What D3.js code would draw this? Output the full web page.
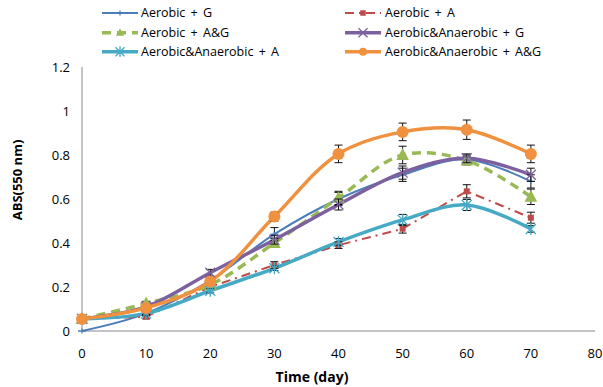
<!DOCTYPE html>
<html><head><meta charset="utf-8">
<script src="https://cdn.jsdelivr.net/npm/d3@7"></script>
<style>body{margin:0;background:#fff}svg{display:block}text{font-family:"Open Sans","Noto Sans",sans-serif;fill:#000}</style>
</head><body><div id="c"></div>
<script>
const days = [0,10,20,30,40,50,60,70];
const xTicks = [0,10,20,30,40,50,60,70,80];
const yTicks = [0,0.2,0.4,0.6,0.8,1,1.2];
const seriesNames = ["Aerobic + G","Aerobic + A","Aerobic + A&G","Aerobic&Anaerobic + G","Aerobic&Anaerobic + A","Aerobic&Anaerobic + A&G"];
const aerobicG   = [0.0,0.08,0.23,0.44,0.60,0.71,0.78,0.68];
const aerobicA   = [0.055,0.065,0.20,0.30,0.39,0.465,0.635,0.515];
const aerobicAG  = [0.055,0.125,0.21,0.40,0.605,0.80,0.775,0.61];
const bothG      = [0.055,0.11,0.265,0.415,0.575,0.72,0.785,0.71];
const bothA      = [0.055,0.08,0.183,0.285,0.405,0.505,0.573,0.464];
const bothAG     = [0.055,0.105,0.225,0.52,0.805,0.905,0.915,0.805];
const errG   = [0,0.01,0.015,0.03,0.03,0.03,0.02,0.03];
const errA   = [0.005,0.01,0.01,0.015,0.015,0.02,0.03,0.025];
const errAG  = [0.01,0.01,0.01,0.02,0.03,0.04,0.02,0.035];
const errBG  = [0.005,0.01,0.015,0.02,0.025,0.03,0.02,0.03];
const errBA  = [0.005,0.01,0.01,0.01,0.015,0.025,0.025,0.015];
const errBAG = [0.01,0.01,0.01,0.02,0.04,0.04,0.044,0.04];

const W=603,H=387;
const svg=d3.select("#c").append("svg").attr("width",W).attr("height",H);
const x=d3.scaleLinear().domain([0,80]).range([82,595]);
const y=d3.scaleLinear().domain([0,1.2]).range([331,67]);

const S=[
 {name:seriesNames[0],v:aerobicG,e:errG,color:"#4A7EBB",w:2,dash:null,smooth:true,marker:"plus",ms:4},
 {name:seriesNames[1],v:aerobicA,e:errA,color:"#BE4B48",w:2,dash:"9,5,2,5",smooth:false,marker:"square",ms:5},
 {name:seriesNames[2],v:aerobicAG,e:errAG,color:"#98B954",w:3.5,dash:"9,6",smooth:true,marker:"triangle",ms:7},
 {name:seriesNames[3],v:bothG,e:errBG,color:"#7D60A0",w:3.5,dash:null,smooth:true,marker:"x",ms:5},
 {name:seriesNames[4],v:bothA,e:errBA,color:"#46AAC5",w:3.5,dash:null,smooth:true,marker:"star",ms:5},
 {name:seriesNames[5],v:bothAG,e:errBAG,color:"#F0913F",w:3.5,dash:null,smooth:true,marker:"circle",ms:6}
];

// axes
const ax=svg.append("g");
ax.append("line").attr("x1",x(0)).attr("x2",x(0)).attr("y1",y(1.2)).attr("y2",y(0)).attr("stroke","#888").attr("stroke-width",1);
ax.append("line").attr("x1",x(0)).attr("x2",x(80)).attr("y1",y(0)).attr("y2",y(0)).attr("stroke","#888").attr("stroke-width",1);
ax.selectAll(".yt").data(yTicks).join("text").attr("x",70).attr("y",d=>y(d)).attr("dy","0.35em")
  .attr("text-anchor","end").attr("font-size",13).text(d=>d3.format("")(d));
ax.selectAll(".xt").data(xTicks).join("text").attr("x",d=>x(d)).attr("y",353).attr("dy","0.35em")
  .attr("text-anchor","middle").attr("font-size",13).text(d=>d);
svg.append("text").attr("x",312).attr("y",377).attr("dy","0.35em").attr("text-anchor","middle")
  .attr("font-size",14).attr("font-weight","bold").text("Time (day)");
svg.append("text").attr("transform","translate(17,180) rotate(-90)").attr("dy","0.35em").attr("text-anchor","middle")
  .attr("font-size",13).attr("font-weight","bold").text("ABS(550 nm)");

function drawMarker(g,type,cx,cy,s,color){
  if(type==="circle") g.append("circle").attr("cx",cx).attr("cy",cy).attr("r",s).attr("fill",color);
  else if(type==="square") g.append("rect").attr("x",cx-s/2-0.5).attr("y",cy-s/2-0.5).attr("width",s+1).attr("height",s+1).attr("fill",color);
  else if(type==="triangle") g.append("path").attr("d",`M${cx},${cy-s}L${cx+s*0.9},${cy+s*0.7}L${cx-s*0.9},${cy+s*0.7}Z`).attr("fill",color);
  else if(type==="x") g.append("path").attr("d",`M${cx-s},${cy-s}L${cx+s},${cy+s}M${cx-s},${cy+s}L${cx+s},${cy-s}`).attr("stroke",color).attr("stroke-width",1.3);
  else if(type==="star") g.append("path").attr("d",`M${cx-s},${cy-s}L${cx+s},${cy+s}M${cx-s},${cy+s}L${cx+s},${cy-s}M${cx},${cy-s*1.2}L${cx},${cy+s*1.2}`).attr("stroke",color).attr("stroke-width",1.3);
  else if(type==="plus") g.append("path").attr("d",`M${cx-s},${cy}L${cx+s},${cy}M${cx},${cy-s*0.6}L${cx},${cy+s*0.6}`).attr("stroke",color).attr("stroke-width",1.3);
}

const plot=svg.append("g");
S.forEach(s=>{
  const pts=days.map((d,i)=>[d,s.v[i],s.e[i]]);
  const line=d3.line().x(d=>x(d[0])).y(d=>y(d[1])).curve(s.smooth?d3.curveCatmullRom.alpha(0.5):d3.curveLinear);
  plot.append("path").attr("d",line(pts)).attr("fill","none").attr("stroke",s.color).attr("stroke-width",s.w)
    .attr("stroke-dasharray",s.dash).attr("stroke-linejoin","round");
});
S.forEach(s=>{
  const g=plot.append("g");
  days.forEach((d,i)=>{
    const cx=x(d),e=s.e[i];
    if(e>0){
      const y1=y(s.v[i]+e),y2=y(s.v[i]-e);
      g.append("line").attr("x1",cx).attr("x2",cx).attr("y1",y1).attr("y2",y2).attr("stroke","#111").attr("stroke-width",1);
      [y1,y2].forEach(yy=>g.append("line").attr("x1",cx-4).attr("x2",cx+4).attr("y1",yy).attr("y2",yy).attr("stroke","#111").attr("stroke-width",1));
    }
    drawMarker(g,s.marker,cx,y(s.v[i]),s.ms,s.color);
  });
});

// legend
const legPos=[[102,13],[345,13],[102,32.7],[345,32.7],[102,51.7],[345,51.7]];
S.forEach((s,i)=>{
  const [lx,ly]=legPos[i];
  const g=svg.append("g");
  g.append("line").attr("x1",lx).attr("x2",lx+36).attr("y1",ly).attr("y2",ly).attr("stroke",s.color)
   .attr("stroke-width",s.w).attr("stroke-dasharray",s.dash);
  drawMarker(g,s.marker,lx+18,ly,s.marker==="circle"?4:Math.min(s.ms,4.5),s.color);
  g.append("text").attr("x",lx+(i%2?40:39)).attr("y",ly).attr("dy","0.35em").attr("font-size",12.5)
   .attr("word-spacing",2).text(s.name);
});
</script></body></html>
